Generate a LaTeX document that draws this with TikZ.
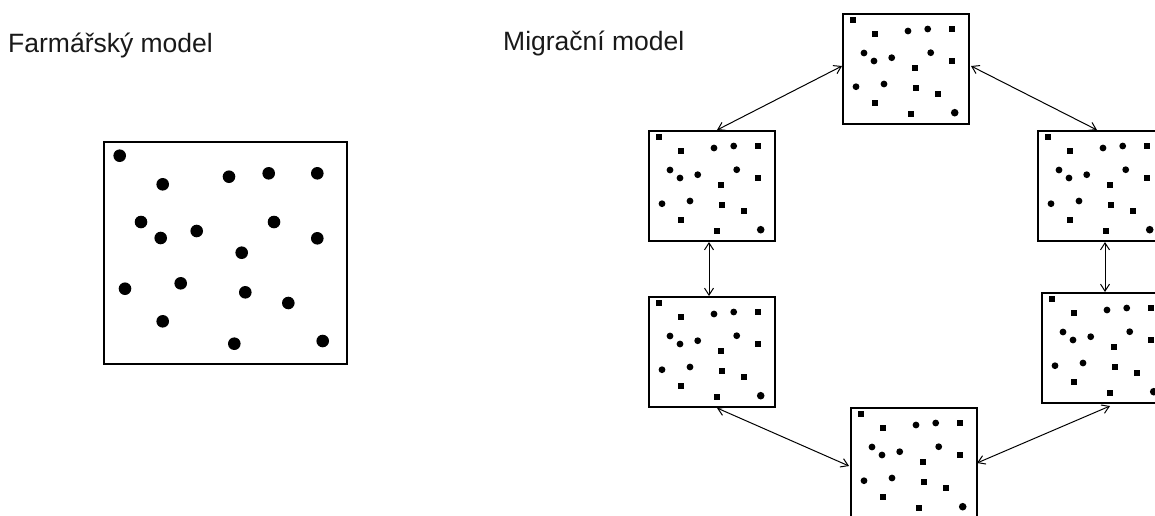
\documentclass[tikz,border=0pt]{standalone}
\usepackage{fontspec}
\setmainfont{Liberation Sans}
\usetikzlibrary{arrows.meta,calc}
\tikzset{
  lbl/.style={anchor=base west, inner sep=0pt, font=\fontsize{26.5}{30}\selectfont, text=black!90},
  bigbox/.style={draw, line width=2pt, minimum width=243pt, minimum height=222pt, inner sep=0pt},
  smallbox/.style={draw, line width=2pt, minimum width=126pt, minimum height=110pt, inner sep=0pt},
  link/.style={line width=1pt, {Straight Barb[length=7pt,width=9pt]}-{Straight Barb[length=7pt,width=9pt]}},
}
\newcommand\bigdots[1]{%
  \foreach \x/\y in {16.7/14.7, 59.7/43.3, 126/35.7, 165.7/32.3, 214.3/32.3, 38/81, 57.7/97, 93.7/90, 171/81, 214.3/97.3, 138.7/111.7, 22/147.7, 77.7/142.3, 142.3/151.3, 185.3/162, 59.7/180.3, 131.3/202.7, 219.7/200}
    \fill ($(#1.north west)+(\x,\y)$) circle (6.3pt);}
\newcommand\smalldots[1]{%
  \foreach \x/\y in {11/6.7, 33/21, 110.3/16, 110.3/48, 72.7/55.3, 74.3/75.3, 95.7/80.7, 33/89.7, 68.7/101.3}
    \fill ($(#1.north west)+(\x-2.9,\y-2.9)$) rectangle ++(5.8,5.8);
  \foreach \x/\y in {66/18, 85.7/16, 22/40, 32/48, 49.7/44.7, 88.7/39.7, 14/73.7, 42/71}
    \fill ($(#1.north west)+(\x,\y)$) circle (3.4pt);
  \fill ($(#1.north west)+(112.7,99.7)$) circle (3.8pt);}
\begin{document}
\begin{tikzpicture}[x=1pt,y=-1pt]
\useasboundingbox (0,0) rectangle (1155,515);
\clip (0,0) rectangle (1155,515);
\node[lbl] (t1) at (8,52) {Farmářský model};
\node[lbl] (t2) at (503,50) {Migrační model};
\node[bigbox] (big) at (225.5,253) {};
\bigdots{big}
\node[smallbox] (T)  at (906,69) {};
\node[smallbox] (LU) at (712,186) {};
\node[smallbox] (LL) at (712,352) {};
\node[smallbox] (RU) at (1101,186) {};
\node[smallbox] (RL) at (1105,348) {};
\node[smallbox] (B)  at (914,463) {};
\foreach \n in {T,LU,LL,RU,RL,B} {\smalldots{\n}}
\draw[link] ($(T.west)+(0,-3)$) -- ($(LU.north)+(5,0)$);
\draw[link] ($(T.east)+(1,-3)$) -- ($(RU.north)+(-4,0)$);
\draw[link] ($(LU.south)+(-3,0)$) -- ($(LL.north)+(-3,0)$);
\draw[link] ($(RU.south)+(4,0)$) -- ($(RL.north)+(0,0)$);
\draw[link] ($(LL.south)+(5,0)$) -- ($(B.west)+(-1,3)$);
\draw[link] ($(RL.south)+(5,2)$) -- ($(B.east)+(-1,0)$);
\end{tikzpicture}
\end{document}
